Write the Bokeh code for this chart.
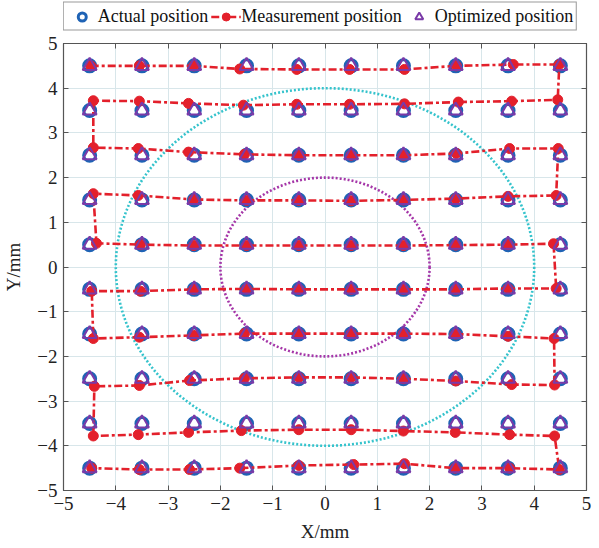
from bokeh.plotting import figure
from bokeh.layouts import column
from bokeh.models import Legend, LegendItem, LinearAxis, FixedTicker
from bokeh.embed import file_html
from bokeh.resources import INLINE

# ---- data ----
grid_x = [-4.5, -3.5, -2.5, -1.5, -0.5, 0.5, 1.5, 2.5, 3.5, 4.5]
grid_y = [4.5, 3.5, 2.5, 1.5, 0.5, -0.5, -1.5, -2.5, -3.5, -4.5]

# measurement rows (top to bottom), each listed left to right
meas_x_rows = [
    [-4.48, -3.55, -2.51, -1.63, -0.54, 0.47, 1.52, 2.51, 3.60, 4.48],
    [-4.43, -3.55, -2.61, -1.56, -0.54, 0.47, 1.52, 2.55, 3.57, 4.45],
    [-4.43, -3.57, -2.61, -1.54, -0.50, 0.50, 1.50, 2.51, 3.53, 4.46],
    [-4.43, -3.57, -2.51, -1.50, -0.50, 0.50, 1.50, 2.50, 3.50, 4.42],
    [-4.37, -3.53, -2.51, -1.50, -0.50, 0.50, 1.50, 2.50, 3.50, 4.37],
    [-4.46, -3.53, -2.51, -1.50, -0.50, 0.50, 1.50, 2.50, 3.50, 4.42],
    [-4.43, -3.55, -2.51, -1.54, -0.50, 0.50, 1.50, 2.50, 3.50, 4.38],
    [-4.41, -3.55, -2.59, -1.54, -0.50, 0.50, 1.50, 2.50, 3.57, 4.39],
    [-4.43, -3.57, -2.61, -1.60, -0.50, 0.50, 1.50, 2.49, 3.53, 4.39],
    [-4.46, -3.55, -2.59, -1.63, -0.50, 0.55, 1.52, 2.49, 3.53, 4.48],
]
meas_y_rows = [
    [4.50, 4.50, 4.50, 4.43, 4.42, 4.42, 4.42, 4.50, 4.53, 4.53],
    [3.72, 3.71, 3.66, 3.62, 3.64, 3.64, 3.65, 3.69, 3.71, 3.74],
    [2.67, 2.65, 2.57, 2.52, 2.50, 2.50, 2.50, 2.54, 2.65, 2.65],
    [1.64, 1.60, 1.51, 1.49, 1.49, 1.48, 1.50, 1.53, 1.58, 1.60],
    [0.53, 0.50, 0.48, 0.48, 0.48, 0.48, 0.48, 0.49, 0.50, 0.52],
    [-0.54, -0.54, -0.50, -0.49, -0.50, -0.50, -0.50, -0.50, -0.48, -0.48],
    [-1.60, -1.57, -1.53, -1.49, -1.49, -1.49, -1.49, -1.50, -1.55, -1.60],
    [-2.67, -2.65, -2.54, -2.49, -2.47, -2.47, -2.50, -2.55, -2.63, -2.64],
    [-3.78, -3.75, -3.70, -3.66, -3.64, -3.64, -3.67, -3.70, -3.75, -3.78],
    [-4.50, -4.53, -4.53, -4.50, -4.44, -4.42, -4.40, -4.50, -4.50, -4.53],
]

circle_radii = [4, 2]
circle_colors = ["#35c3cc", "#a536a8"]

tick_values = [-5, -4, -3, -2, -1, 0, 1, 2, 3, 4, 5]
tick_labels = ["\u22125", "\u22124", "\u22123", "\u22122", "\u22121", "0", "1", "2", "3", "4", "5"]
legend_labels = ["Actual position", "Measurement position", "Optimized position"]

# ---- derived ----
act_x = [x for y in grid_y for x in grid_x]
act_y = [y for y in grid_y for x in grid_x]
path_x, path_y = [], []
for i, (rx, ry) in enumerate(zip(meas_x_rows, meas_y_rows)):
    if i % 2 == 0:
        path_x += rx
        path_y += ry
    else:
        path_x += rx[::-1]
        path_y += ry[::-1]

FONT = "Liberation Serif"
FW, FH = 523, 447
BL, BR, BT = 54, 6, 11
LEG_H = 32

ACT = dict(marker="circle", size=12, fill_alpha=0, line_color="#1f63b5", line_width=3)
LINE = dict(line_color="#e3202b", line_width=2.6, line_dash="8 3 3 3")
PTS = dict(marker="circle", size=10, fill_color="#e3202b", line_color="#e3202b")
OPT = dict(marker="triangle", size=14, fill_alpha=0, line_color="#7a3aa8", line_width=2)

# ---- main plot ----
p = figure(frame_width=FW, frame_height=FH, x_range=(-5, 5), y_range=(-5, 5),
           output_backend="svg", toolbar_location=None,
           min_border_left=BL, min_border_right=BR, min_border_bottom=10, min_border_top=BT)
p.background_fill_color = "white"
p.outline_line_color = "#555555"
p.outline_line_width = 1.2

for ax in (p.xaxis[0], p.yaxis[0]):
    ax.ticker = FixedTicker(ticks=tick_values)
    ax.major_label_overrides = dict(zip(tick_values, tick_labels))
    ax.major_label_text_font = FONT
    ax.major_label_text_font_size = "19px"
    ax.major_label_text_color = "#222222"
    ax.major_tick_in = 5
    ax.major_tick_out = 0
    ax.minor_tick_in = 0
    ax.minor_tick_out = 0
    ax.axis_line_color = "#555555"
    ax.major_tick_line_color = "#555555"
    ax.axis_label_text_font = FONT
    ax.axis_label_text_font_size = "19px"
    ax.axis_label_text_font_style = "normal"
    ax.axis_label_text_color = "#222222"

p.xaxis.axis_label = "X/mm"
p.yaxis.axis_label = "Y/mm"
p.xaxis.major_label_standoff = 6
p.yaxis.major_label_standoff = 6
p.xaxis.axis_label_standoff = 8
p.yaxis.axis_label_standoff = 10

for side in ("right", "above"):
    a = LinearAxis(ticker=FixedTicker(ticks=tick_values),
                   major_label_overrides={t: "" for t in tick_values},
                   major_tick_in=5, major_tick_out=0, minor_tick_in=0, minor_tick_out=0,
                   axis_line_color="#555555", major_tick_line_color="#555555",
                   major_label_standoff=0)
    p.add_layout(a, side)

p.xgrid.ticker = FixedTicker(ticks=tick_values)
p.ygrid.ticker = FixedTicker(ticks=tick_values)
p.grid.grid_line_color = "#d8e6ea"
p.grid.grid_line_width = 1

for r, c in zip(circle_radii, circle_colors):
    p.ellipse(x=[0], y=[0], width=[2 * r], height=[2 * r], fill_alpha=0,
              line_color=c, line_width=2.6, line_dash="2 2")

p.scatter(act_x, act_y, **ACT)
p.line(path_x, path_y, **LINE)
p.scatter(path_x, path_y, **PTS)
p.scatter(act_x, act_y, **OPT)

# ---- legend strip (same series, ranges chosen so only the legend shows) ----
lf = figure(width=BL + FW + BR, height=LEG_H, x_range=(10, 11), y_range=(10, 11),
            output_backend="svg", toolbar_location=None,
            x_axis_type=None, y_axis_type=None,
            min_border=0, min_border_left=0, min_border_right=0,
            min_border_top=0, min_border_bottom=0)
lf.outline_line_color = None
lf.xgrid.visible = False
lf.ygrid.visible = False
l_act = lf.scatter(act_x, act_y, **ACT)
l_line = lf.line(path_x, path_y, **LINE)
l_pts = lf.scatter(path_x, path_y, **PTS)
l_opt = lf.scatter(act_x, act_y, **OPT)

legend = Legend(items=[
    LegendItem(label=legend_labels[0], renderers=[l_act]),
    LegendItem(label=legend_labels[1], renderers=[l_line, l_pts]),
    LegendItem(label=legend_labels[2], renderers=[l_opt]),
], orientation="horizontal", location="center",
    label_text_font=FONT, label_text_font_size="18px", label_text_color="#111111",
    glyph_width=30, glyph_height=20, label_standoff=1, spacing=2, padding=3, margin=0,
    border_line_color="#333333", border_line_width=1.2,
    label_height=20, background_fill_alpha=1)
lf.add_layout(legend, "center")

layout = column(lf, p, spacing=0)

html = file_html(layout, INLINE)
open("out.html", "w").write(html)
